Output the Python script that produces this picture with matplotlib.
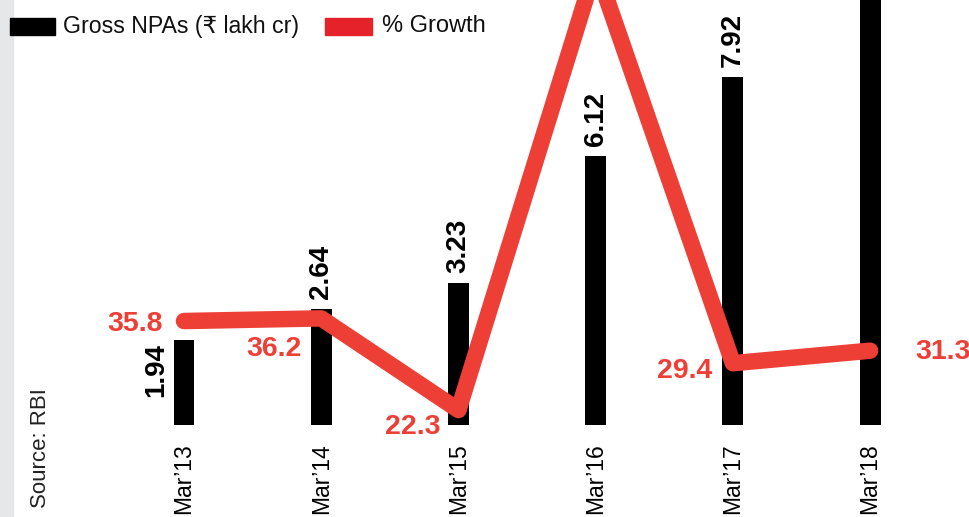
import numpy as np
import matplotlib.pyplot as plt
from matplotlib.patches import Rectangle

# Gross NPAs of banks and year-on-year growth
years = ["Mar’13", "Mar’14", "Mar’15", "Mar’16", "Mar’17", "Mar’18"]
npa = [1.94, 2.64, 3.23, 6.12, 7.92, 10.40]
growth = [35.8, 36.2, 22.3, 89.5, 29.4, 31.3]

BLACK = "#000000"
RED = "#ee3f36"
PATCH_RED = "#e52229"
FONT = ["Liberation Sans", "DejaVu Sans"]
plt.rcParams["font.family"] = FONT

PX = 72 / 100  # points per pixel at dpi 100

fig = plt.figure(figsize=(9.69, 5.17), dpi=100)
ax = fig.add_axes([0, 0, 1, 1])
ax2 = ax.twinx()

x = np.arange(len(years))
ax.set_xlim(-1.341, 5.721)
ax.set_ylim(-2.096, 9.681)
ax2.set_ylim(6.07, 84.5)
for a in (ax, ax2):
    a.axis("off")

# grey strip on the left edge
fig.patches.append(Rectangle((0, 0), 13 / 969, 1, transform=fig.transFigure,
                             color="#e6e7e9", zorder=0))

# bars
ax.bar(x, npa, width=0.153, color=BLACK, zorder=2)

# bar value labels (rotated)
for i, v in enumerate(npa):
    if i == 0:
        ax.annotate(f"{v:.2f}", (x[i], v), xytext=(-28 * PX, -3 * PX),
                    textcoords="offset points", rotation=90, ha="center",
                    va="top", fontsize=20, fontweight="bold", color=BLACK)
    elif v < 9:
        ax.annotate(f"{v:.2f}", (x[i], v), xytext=(0, 10 * PX),
                    textcoords="offset points", rotation=90, ha="center",
                    va="bottom", fontsize=20, fontweight="bold", color=BLACK)

# growth line
ax2.plot(x, growth, color=RED, lw=16.5 * PX, solid_capstyle="round",
         solid_joinstyle="round", zorder=3)

# growth labels: (dx, dy) in pixels, y downwards
offsets = [(-21, 3, "right"), (-19, 31, "right"), (-18, 17, "right"),
           None, (-21, 8, "right"), (45, 1, "left")]
for i, g in enumerate(growth):
    if offsets[i] is None:
        continue
    dx, dy, ha = offsets[i]
    ax2.annotate(f"{g:.1f}", (x[i], g), xytext=(dx * PX, -dy * PX),
                 textcoords="offset points", ha=ha, va="center",
                 fontsize=20.5, fontweight="bold", color=RED, zorder=4)

# category labels under the bars
for i, lab in enumerate(years):
    fig.text((184 + 137.2 * i) / 969, 1 - 443 / 517, lab, rotation=90,
             ha="center", va="top", fontsize=16.5, color=BLACK)

# legend
fig.patches.append(Rectangle((10 / 969, 1 - 35 / 517), 45 / 969, 17 / 517,
                             transform=fig.transFigure, color=BLACK))
fig.text(63 / 969, 1 - 26 / 517, "Gross NPAs (₹ lakh cr)", ha="left",
         va="center", fontsize=16.7, color="#111111")
fig.patches.append(Rectangle((325 / 969, 1 - 35 / 517), 47 / 969, 17 / 517,
                             transform=fig.transFigure, color=PATCH_RED))
fig.text(382 / 969, 1 - 26 / 517, "% Growth", ha="left", va="center",
         fontsize=17, color="#111111")

# source note
fig.text(40 / 969, 1 - 508 / 517, "Source: RBI", rotation=90, ha="center",
         va="bottom", fontsize=16, color="#222222")

fig.savefig("out.png", dpi=100)
